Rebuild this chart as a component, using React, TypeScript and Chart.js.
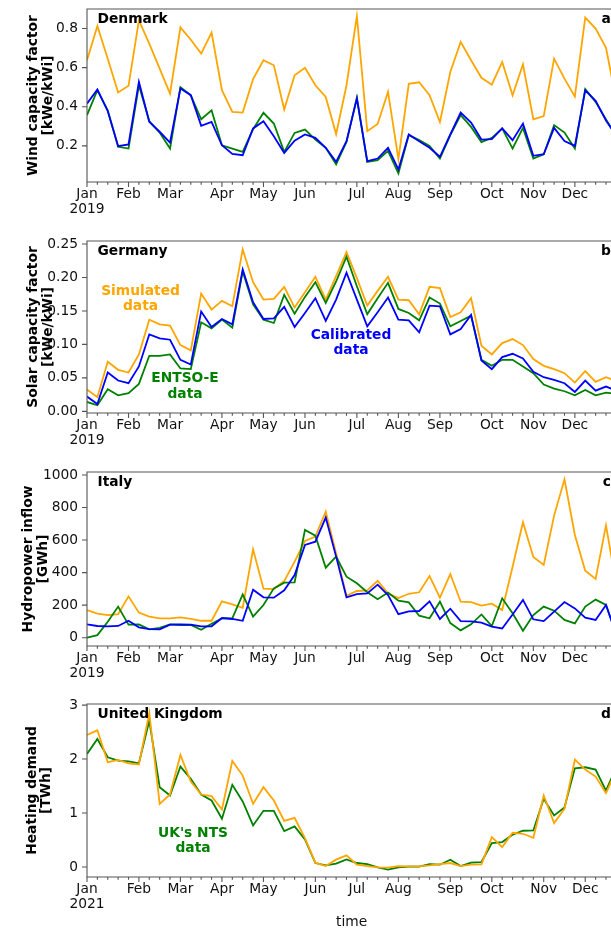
import React, { useEffect, useRef } from 'react';
import { Chart, registerables } from 'chart.js';
Chart.register(...registerables);

// ---------- data ----------
const monthNames = ['Jan', 'Feb', 'Mar', 'Apr', 'May', 'Jun', 'Jul', 'Aug', 'Sep', 'Oct', 'Nov', 'Dec'];
const monthWeek2019 = [0, 4, 8, 13, 17, 21, 26, 30, 34, 39, 43, 47];
const monthWeek2021 = [0, 5, 9, 13, 17, 22, 26, 30, 35, 39, 44, 48];

const dkSimulated = [0.638, 0.813, 0.646, 0.473, 0.507, 0.842, 0.723, 0.595, 0.467, 0.806, 0.743, 0.672, 0.779, 0.485, 0.374, 0.370, 0.541, 0.638, 0.612, 0.386, 0.561, 0.599, 0.510, 0.450, 0.260, 0.510, 0.863, 0.275, 0.312, 0.476, 0.132, 0.517, 0.525, 0.459, 0.321, 0.578, 0.732, 0.638, 0.548, 0.513, 0.629, 0.459, 0.617, 0.336, 0.352, 0.646, 0.544, 0.452, 0.856, 0.800, 0.701, 0.43];
const dkCalibrated = [0.416, 0.488, 0.377, 0.198, 0.207, 0.527, 0.323, 0.272, 0.217, 0.493, 0.459, 0.302, 0.323, 0.203, 0.159, 0.152, 0.289, 0.326, 0.249, 0.164, 0.226, 0.258, 0.241, 0.190, 0.118, 0.224, 0.442, 0.122, 0.135, 0.190, 0.079, 0.258, 0.224, 0.190, 0.144, 0.258, 0.370, 0.319, 0.232, 0.234, 0.289, 0.229, 0.314, 0.149, 0.157, 0.292, 0.224, 0.200, 0.484, 0.430, 0.330, 0.25];
const dkEntsoe = [0.357, 0.485, 0.382, 0.195, 0.186, 0.510, 0.326, 0.268, 0.186, 0.500, 0.459, 0.336, 0.382, 0.203, 0.186, 0.169, 0.285, 0.369, 0.314, 0.169, 0.266, 0.283, 0.232, 0.190, 0.105, 0.220, 0.447, 0.118, 0.127, 0.174, 0.059, 0.255, 0.229, 0.200, 0.135, 0.255, 0.357, 0.297, 0.219, 0.241, 0.289, 0.186, 0.292, 0.135, 0.156, 0.306, 0.268, 0.186, 0.490, 0.425, 0.335, 0.25];

const deSimulated = [0.0326, 0.0212, 0.074, 0.062, 0.058, 0.085, 0.137, 0.130, 0.128, 0.099, 0.091, 0.176, 0.152, 0.165, 0.157, 0.242, 0.193, 0.167, 0.168, 0.186, 0.155, 0.178, 0.201, 0.167, 0.202, 0.238, 0.199, 0.158, 0.180, 0.201, 0.167, 0.166, 0.145, 0.186, 0.184, 0.141, 0.148, 0.169, 0.098, 0.085, 0.102, 0.108, 0.099, 0.078, 0.068, 0.063, 0.057, 0.043, 0.060, 0.044, 0.051, 0.045];
const deCalibrated = [0.022, 0.011, 0.058, 0.046, 0.042, 0.067, 0.115, 0.109, 0.107, 0.077, 0.070, 0.149, 0.126, 0.138, 0.130, 0.212, 0.163, 0.138, 0.139, 0.156, 0.126, 0.147, 0.169, 0.135, 0.167, 0.207, 0.167, 0.127, 0.148, 0.170, 0.137, 0.136, 0.118, 0.158, 0.157, 0.115, 0.123, 0.144, 0.076, 0.063, 0.081, 0.086, 0.079, 0.059, 0.051, 0.047, 0.042, 0.029, 0.046, 0.031, 0.037, 0.031];
const deEntsoe = [0.014, 0.009, 0.033, 0.024, 0.027, 0.041, 0.083, 0.083, 0.085, 0.064, 0.063, 0.133, 0.124, 0.137, 0.125, 0.209, 0.160, 0.137, 0.132, 0.174, 0.146, 0.171, 0.193, 0.162, 0.194, 0.231, 0.187, 0.145, 0.169, 0.192, 0.153, 0.147, 0.136, 0.170, 0.161, 0.127, 0.135, 0.143, 0.077, 0.068, 0.077, 0.077, 0.067, 0.057, 0.040, 0.034, 0.030, 0.024, 0.032, 0.024, 0.028, 0.026];

const itSimulated = [170, 148, 139, 145, 254, 154, 129, 119, 119, 125, 115, 104, 104, 223, 205, 184, 543, 301, 299, 348, 467, 594, 621, 775, 518, 258, 287, 291, 350, 272, 244, 270, 279, 379, 246, 391, 221, 219, 197, 209, 170, 436, 709, 496, 447, 750, 973, 631, 412, 361, 690, 320];
const itCalibrated = [82, 72, 70, 72, 104, 64, 53, 51, 80, 82, 80, 70, 70, 121, 115, 104, 295, 248, 246, 291, 385, 570, 590, 738, 498, 248, 268, 272, 326, 262, 145, 162, 164, 223, 115, 178, 102, 100, 92, 68, 57, 143, 232, 113, 102, 160, 219, 180, 123, 109, 201, 20];
const itEntsoe = [0, 16, 98, 191, 80, 82, 51, 61, 82, 78, 78, 49, 86, 119, 119, 266, 129, 201, 303, 338, 340, 662, 627, 430, 498, 375, 334, 279, 236, 277, 227, 217, 135, 119, 221, 90, 45, 82, 143, 72, 242, 150, 43, 139, 191, 166, 109, 88, 191, 234, 201, 15];

const ukSimulated = [2.446, 2.532, 1.941, 1.984, 1.922, 1.898, 2.853, 1.171, 1.343, 2.076, 1.583, 1.343, 1.312, 1.066, 1.965, 1.694, 1.171, 1.479, 1.232, 0.856, 0.912, 0.536, 0.080, 0.018, 0.136, 0.216, 0.043, 0.018, -0.006, -0.012, 0.018, 0.012, 0.012, 0.031, 0.055, 0.074, 0.018, 0.043, 0.049, 0.555, 0.370, 0.635, 0.616, 0.542, 1.325, 0.813, 1.078, 1.990, 1.805, 1.676, 1.368, 1.80];
const ukNts = [2.095, 2.372, 2.033, 1.972, 1.959, 1.922, 2.711, 1.479, 1.325, 1.861, 1.633, 1.343, 1.232, 0.893, 1.522, 1.214, 0.770, 1.041, 1.041, 0.665, 0.752, 0.511, 0.074, 0.031, 0.062, 0.142, 0.074, 0.055, -0.006, -0.049, -0.006, 0.006, 0.006, 0.055, 0.043, 0.136, 0.018, 0.080, 0.092, 0.444, 0.462, 0.598, 0.672, 0.678, 1.263, 0.955, 1.103, 1.830, 1.848, 1.805, 1.417, 1.85];

const windTicks = [0.2, 0.4, 0.6, 0.8];
const windTickLabels = ['0.2', '0.4', '0.6', '0.8'];
const solarTicks = [0, 0.05, 0.1, 0.15, 0.2, 0.25];
const solarTickLabels = ['0.00', '0.05', '0.10', '0.15', '0.20', '0.25'];
const hydroTicks = [0, 200, 400, 600, 800, 1000];
const hydroTickLabels = ['0', '200', '400', '600', '800', '1000'];
const heatTicks = [0, 1, 2, 3];
const heatTickLabels = ['0', '1', '2', '3'];

// ---------- style ----------
const ORANGE = '#FFA500';
const BLUE = '#0000FF';
const GREEN = '#008000';
const AXIS = '#555555';
const TEXT = '#111111';
const FAMILY = '"DejaVu Sans", sans-serif';
const FS = 13.8;
const W = 640;
const PAD_TOP = 10;
const PLOT_LEFT = 87;
const WEEK_PX = 10.38;
const N_WEEKS = 51;
const PLOT_RIGHT = PLOT_LEFT + WEEK_PX * N_WEEKS;

type Series = { data: number[]; color: string; order: number };
type Note = { text: string[]; color: string; dx: number; dy: number };
type Panel = {
  top: number; height: number; bottomSpace: number;
  yMin: number; yMax: number; yTicks: number[]; yTickLabels: string[];
  yTitle: string[]; yTitleX: number[];
  title: string; letter: string; monthWeeks: number[]; year: string;
  series: Series[]; notes: Note[]; xTitle?: string;
};

const panels: Panel[] = [
  {
    top: 9, height: 173, bottomSpace: 40, yMin: 0.015, yMax: 0.9,
    yTicks: windTicks, yTickLabels: windTickLabels,
    yTitle: ['Wind capacity factor', '[kWe/kWi]'], yTitleX: [33.5, 48],
    title: 'Denmark', letter: 'a', monthWeeks: monthWeek2019, year: '2019',
    series: [
      { data: dkSimulated, color: ORANGE, order: 3 },
      { data: dkEntsoe, color: GREEN, order: 2 },
      { data: dkCalibrated, color: BLUE, order: 1 },
    ],
    notes: [],
  },
  {
    top: 241, height: 172, bottomSpace: 40, yMin: -0.0025, yMax: 0.2545,
    yTicks: solarTicks, yTickLabels: solarTickLabels,
    yTitle: ['Solar capacity factor', '[kWe/kWi]'], yTitleX: [33.5, 48],
    title: 'Germany', letter: 'b', monthWeeks: monthWeek2019, year: '2019',
    series: [
      { data: deSimulated, color: ORANGE, order: 3 },
      { data: deEntsoe, color: GREEN, order: 2 },
      { data: deCalibrated, color: BLUE, order: 1 },
    ],
    notes: [
      { text: ['Simulated', 'data'], color: ORANGE, dx: 53.5, dy: 58 },
      { text: ['Calibrated', 'data'], color: BLUE, dx: 264, dy: 102 },
      { text: ['ENTSO-E', 'data'], color: GREEN, dx: 98, dy: 145.5 },
    ],
  },
  {
    top: 472, height: 174, bottomSpace: 40, yMin: -51, yMax: 1018,
    yTicks: hydroTicks, yTickLabels: hydroTickLabels,
    yTitle: ['Hydropower inflow', '[GWh]'], yTitleX: [28.5, 43],
    title: 'Italy', letter: 'c', monthWeeks: monthWeek2019, year: '2019',
    series: [
      { data: itSimulated, color: ORANGE, order: 3 },
      { data: itEntsoe, color: GREEN, order: 2 },
      { data: itCalibrated, color: BLUE, order: 1 },
    ],
    notes: [],
  },
  {
    top: 704, height: 173, bottomSpace: 56, yMin: -0.185, yMax: 3.02,
    yTicks: heatTicks, yTickLabels: heatTickLabels,
    yTitle: ['Heating demand', '[TWh]'], yTitleX: [32, 46.5],
    title: 'United Kingdom', letter: 'd', monthWeeks: monthWeek2021, year: '2021',
    series: [
      { data: ukNts, color: GREEN, order: 2 },
      { data: ukSimulated, color: ORANGE, order: 1 },
    ],
    notes: [{ text: ["UK's NTS", 'data'], color: GREEN, dx: 106, dy: 137 }],
    xTitle: 'time',
  },
];

function decorPlugin(p: Panel) {
  return {
    id: 'decor',
    afterDraw(chart: any) {
      const { ctx, chartArea: a, scales } = chart;
      const xs = scales.x;
      const ys = scales.y;
      ctx.save();
      ctx.strokeStyle = AXIS;
      ctx.lineWidth = 1.1;
      ctx.beginPath();
      ctx.rect(a.left, a.top, a.right - a.left, a.bottom - a.top);
      ctx.stroke();
      ctx.beginPath();
      for (const v of p.yTicks) {
        const py = ys.getPixelForValue(v);
        ctx.moveTo(a.left - 5, py);
        ctx.lineTo(a.left, py);
      }
      for (let i = 0; i <= N_WEEKS; i++) {
        const px = xs.getPixelForValue(i);
        const len = p.monthWeeks.includes(i) ? 5 : 2.8;
        ctx.moveTo(px, a.bottom);
        ctx.lineTo(px, a.bottom + len);
      }
      ctx.stroke();

      ctx.fillStyle = '#000';
      ctx.font = `bold ${FS}px ${FAMILY}`;
      ctx.textBaseline = 'middle';
      ctx.textAlign = 'left';
      ctx.fillText(p.title, a.left + 10.5, a.top + 10.5);
      ctx.textAlign = 'right';
      ctx.fillText(p.letter, a.right - 5.5, a.top + 10.5);

      // y title
      const midY = (a.top + a.bottom) / 2;
      p.yTitle.forEach((line, k) => {
        ctx.save();
        ctx.translate(p.yTitleX[k], midY);
        ctx.rotate(-Math.PI / 2);
        ctx.textAlign = 'center';
        ctx.textBaseline = 'middle';
        ctx.fillText(line, 0, 0);
        ctx.restore();
      });

      // notes
      ctx.textAlign = 'center';
      for (const n of p.notes) {
        ctx.fillStyle = n.color;
        const lh = 15.5;
        n.text.forEach((t, k) => {
          ctx.fillText(t, a.left + n.dx, a.top + n.dy + (k - (n.text.length - 1) / 2) * lh);
        });
      }

      if (p.xTitle) {
        ctx.fillStyle = TEXT;
        ctx.font = `${FS}px ${FAMILY}`;
        ctx.fillText(p.xTitle, (a.left + a.right) / 2, a.bottom + 45.5);
      }
      ctx.restore();
    },
  };
}

function PanelChart({ p }: { p: Panel }) {
  const ref = useRef<HTMLCanvasElement>(null);
  const H = PAD_TOP + p.height + p.bottomSpace;
  useEffect(() => {
    const font = { family: FAMILY, size: FS, lineHeight: 1.1 };
    const chart = new Chart(ref.current as HTMLCanvasElement, {
      type: 'line',
      data: {
        datasets: p.series.map((s) => ({
          data: s.data.map((v, i) => ({ x: i, y: v })),
          borderColor: s.color,
          backgroundColor: s.color,
          borderWidth: 1.8,
          pointRadius: 0,
          fill: false,
          tension: 0,
          order: s.order,
        })),
      },
      options: {
        responsive: false,
        animation: false,
        devicePixelRatio: 1,
        layout: { padding: { top: PAD_TOP, left: 0, right: W - PLOT_RIGHT, bottom: 0 } },
        plugins: { legend: { display: false }, tooltip: { enabled: false } },
        scales: {
          x: {
            type: 'linear',
            min: 0,
            max: N_WEEKS,
            grid: { display: false, drawTicks: false },
            border: { display: false },
            ticks: {
              autoSkip: false,
              maxRotation: 0,
              minRotation: 0,
              padding: 5,
              color: TEXT,
              font,
              callback: (_v: any, i: number) => (i === 0 ? [monthNames[0], p.year] : monthNames[i]),
            },
            afterBuildTicks: (s: any) => {
              s.ticks = p.monthWeeks.map((v) => ({ value: v }));
            },
            afterFit: (s: any) => {
              s.height = p.bottomSpace;
              s.paddingLeft = 0;
              s.paddingRight = 0;
            },
          },
          y: {
            type: 'linear',
            min: p.yMin,
            max: p.yMax,
            grid: { display: false, drawTicks: false },
            border: { display: false },
            ticks: {
              padding: 9,
              color: TEXT,
              font,
              callback: (_v: any, i: number) => p.yTickLabels[i],
            },
            afterBuildTicks: (s: any) => {
              s.ticks = p.yTicks.map((v) => ({ value: v }));
            },
            afterFit: (s: any) => {
              s.width = PLOT_LEFT;
              s.paddingTop = 0;
              s.paddingBottom = 0;
            },
          },
        },
      } as any,
      plugins: [decorPlugin(p)],
    });
    return () => chart.destroy();
  }, []);
  return (
    <canvas
      ref={ref}
      width={W}
      height={H}
      style={{ position: 'absolute', left: 0, top: p.top - PAD_TOP, width: W, height: H }}
    />
  );
}

export default function App() {
  return (
    <div
      style={{
        position: 'absolute',
        left: 0,
        top: 0,
        width: 611,
        height: 930,
        overflow: 'hidden',
        background: '#fff',
      }}
    >
      {panels.map((p, i) => (
        <PanelChart key={i} p={p} />
      ))}
    </div>
  );
}
